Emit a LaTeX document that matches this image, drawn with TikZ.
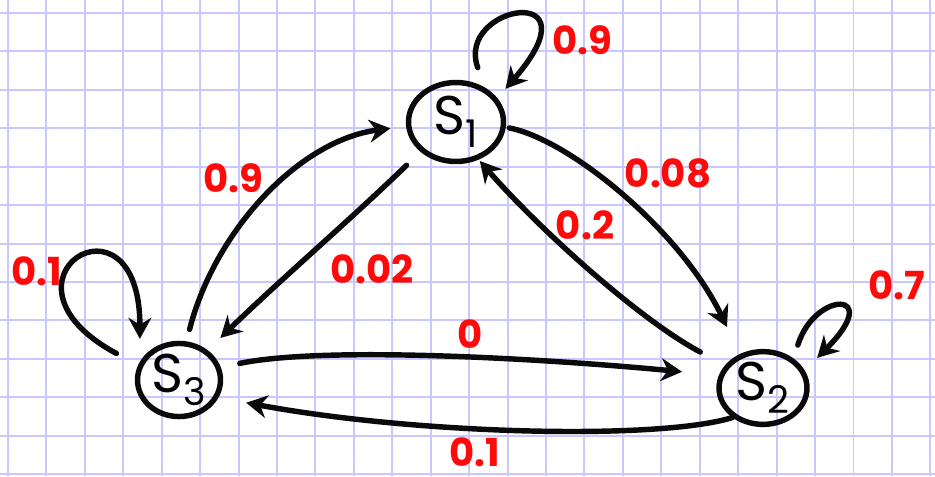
\documentclass[tikz,border=0pt]{standalone}
\usepackage{fontspec}
\setmainfont{Poppins}
\usepackage{tikz}
\usetikzlibrary{shapes.geometric,arrows.meta}
\definecolor{PadGrid}{HTML}{C8C8FF}
\definecolor{PadRed}{HTML}{FF0A0A}
\definecolor{PadInk}{HTML}{0A0A0A}

\begin{document}
\begin{tikzpicture}[x=0.02cm,y=-0.02cm,
    gridline/.style={PadGrid,line width=1.1pt},
    chainstate/.style={ellipse,draw=PadInk,line width=3.1pt,inner sep=0pt,
      font=\fontsize{31}{31}\selectfont},
    trans/.style={PadInk,line width=3.1pt,line cap=round,
      -{Stealth[length=12pt,width=13pt]}},
    prob/.style={text=PadRed,inner sep=1pt,font=\bfseries\fontsize{22}{22}\selectfont}]
    \fill[white] (0,0) rectangle (935,476);
    \useasboundingbox (0,0) rectangle (935,476);
    \foreach \k in {0,...,24}{
      \draw[gridline] ({8+38.43*\k},0) -- ({8+38.43*\k},476);}
    \foreach \k in {0,...,12}{
      \draw[gridline] (0,{13+38.43*\k}) -- (935,{13+38.43*\k});}
    \node[chainstate,minimum width=1.9cm,minimum height=1.58cm] (s1) at (456,122) {S\textsubscript{1}};
    \node[chainstate,minimum width=1.76cm,minimum height=1.44cm] (s2) at (763,388) {S\textsubscript{2}};
    \node[chainstate,minimum width=1.66cm,minimum height=1.38cm] (s3) at (179,380) {S\textsubscript{3}};
    \draw[trans,shorten <=12pt,shorten >=7pt] (s1.50) .. controls (455,5) and (600,-20) .. (s1.30);
    \draw[trans,shorten <=8pt,shorten >=10pt] (s2.44) .. controls (815,290) and (885,290) .. (s2.23);
    \draw[trans,shorten <=14pt,shorten >=13pt] (s3.160) .. controls (-20,280) and (140,180) .. (s3.155);
    \draw[trans,shorten <=7pt,shorten >=9pt] (s3.79) .. controls (215,230) and (300,140) .. (s1.185);
    \draw[trans,shorten <=11pt,shorten >=10pt] (s1.220) .. controls (350,220) and (280,280) .. (s3.46);
    \draw[trans,shorten <=2pt,shorten >=17pt] (s1.354) .. controls (570,140) and (680,230) .. (s2.124);
    \draw[trans,shorten <=16pt,shorten >=1pt] (s2.149) .. controls (640,320) and (540,230) .. (s1.301);
    \draw[trans,shorten <=11pt,shorten >=21pt] (s3.17) .. controls (330,345) and (560,360) .. (s2.164);
    \draw[trans,shorten >=16pt] (s2.224) .. controls (660,440) and (420,435) .. (s3.336);
    \node[prob] (p11) at (582,40) {0.9};
    \node[prob] (p31) at (233,178) {0.9};
    \node[prob] (p12) at (668,173) {0.08};
    \node[prob] (p21) at (585,225) {0.2};
    \node[prob] (p13) at (372,269) {0.02};
    \node[prob] (p33) at (37,271) {0.1};
    \node[prob] (p22) at (897,285) {0.7};
    \node[prob] (p32) at (470,334) {0};
    \node[prob] (p23) at (475,452) {0.1};
  \end{tikzpicture}
\end{document}
